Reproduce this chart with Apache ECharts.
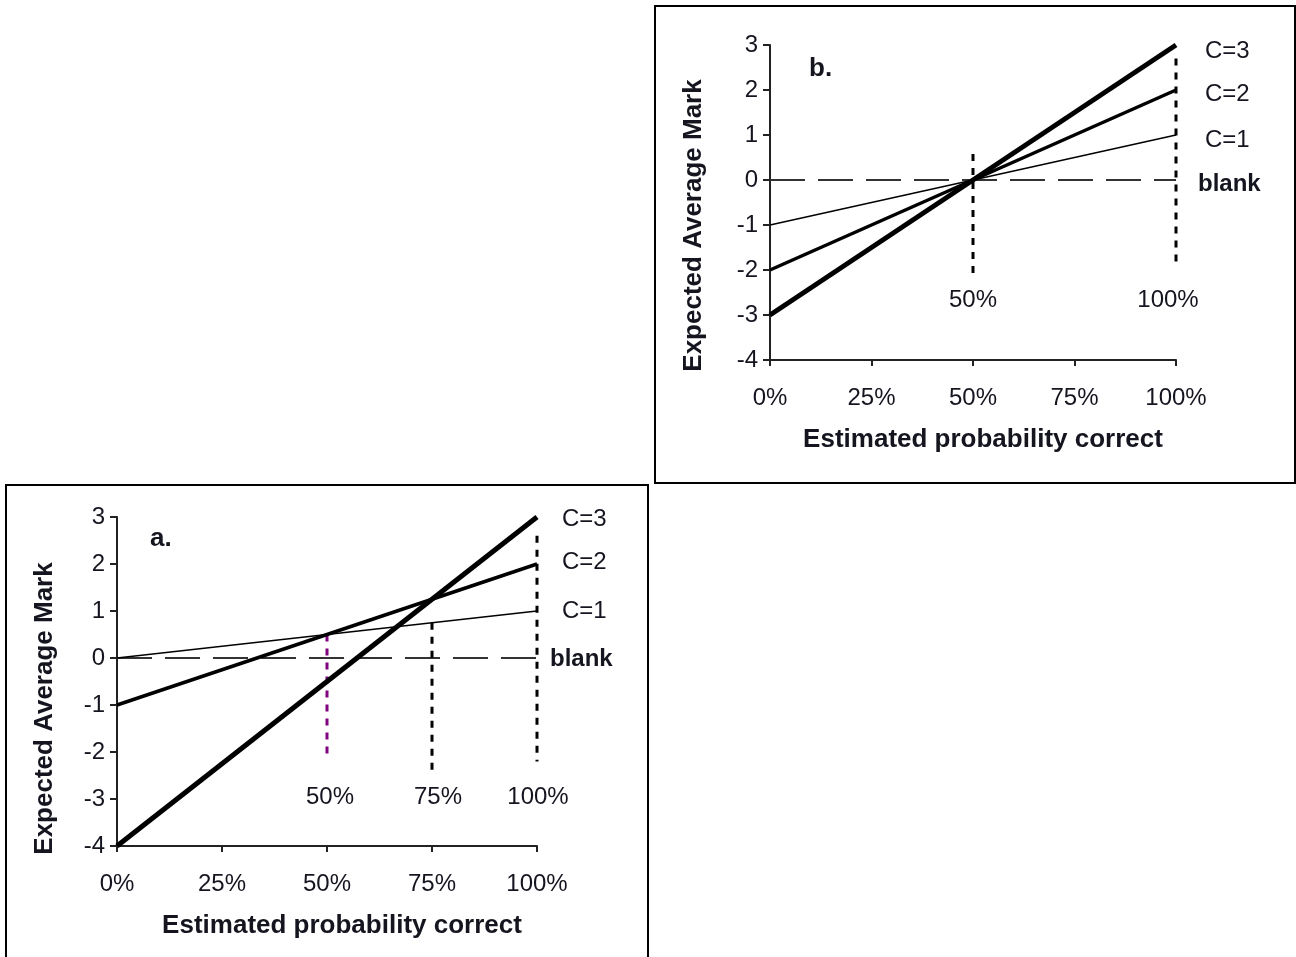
<!DOCTYPE html>
<html>
<head>
<meta charset="utf-8">
<script src="https://cdn.jsdelivr.net/npm/echarts@6/dist/echarts.min.js"></script>
<style>
html,body{margin:0;padding:0;background:#fff;}
#chart{width:1296px;height:957px;}
</style>
</head>
<body>
<div id="chart"></div>
<script>
// ---------- DATA ----------
var xTicks = [0, 25, 50, 75, 100];           // % estimated probability correct
var yTicks = [-4, -3, -2, -1, 0, 1, 2, 3];   // expected average mark
var xEnds = [0, 100];

// Panel a: C=1: 0..1, C=2: -1..2, C=3: -4..3
var aC1 = [0, 1];
var aC2 = [-1, 2];
var aC3 = [-4, 3];
var aBlank = [0, 0];
// Panel b: C=1: -1..1, C=2: -2..2, C=3: -3..3
var bC1 = [-1, 1];
var bC2 = [-2, 2];
var bC3 = [-3, 3];
var bBlank = [0, 0];

// threshold reference lines: [x, yTop, yBottom]
var aRefs = [[50, 0.5, -2.15], [75, 0.75, -2.4], [100, 2.6, -2.2]];
var bRefs = [[50, 0.58, -2.1], [100, 2.7, -1.9]];
var aRefLabels = ['50%', '75%', '100%'];
var bRefLabels = ['50%', '100%'];
var aRefLabelY = -2.96;
var bRefLabelY = -2.67;

var seriesNames = ['C=1', 'C=2', 'C=3', 'blank'];

// ---------- CHART ----------
var chart = echarts.init(document.getElementById('chart'));
var FONT = '"Liberation Sans", Arial, sans-serif';
var INK = '#151520';

function pts(vals) { return xEnds.map(function (x, i) { return [x, vals[i]]; }); }

function axesFor(idx, yGap, yPad, xPad) {
  return {
    x: {
      type: 'value', gridIndex: idx, min: 0, max: 100, interval: 25,
      axisLine: { onZero: false, lineStyle: { color: '#222', width: 2 } },
      axisTick: { show: true, length: 6, lineStyle: { color: '#222', width: 2 } },
      axisLabel: { formatter: '{value}%', margin: 26, fontSize: 24, color: INK, fontFamily: FONT },
      splitLine: { show: false },
      name: 'Estimated probability correct', nameLocation: 'middle', nameGap: 67,
      nameTextStyle: { fontSize: 26, fontWeight: 'bold', color: INK, fontFamily: FONT, padding: [0, 0, 0, xPad] }
    },
    y: {
      type: 'value', gridIndex: idx, min: -4, max: 3, interval: 1,
      axisLine: { onZero: false, lineStyle: { color: '#222', width: 2 } },
      axisTick: { show: true, length: 7, lineStyle: { color: '#222', width: 2 } },
      axisLabel: { margin: 12, fontSize: 24, color: INK, fontFamily: FONT },
      splitLine: { show: false },
      name: 'Expected Average Mark', nameLocation: 'middle', nameGap: yGap,
      nameTextStyle: { fontSize: 26, fontWeight: 'bold', color: INK, fontFamily: FONT, padding: [0, yPad, 0, 0] }
    }
  };
}

function lineSeries(idx, name, vals, width, labDist, labDy, bold, dashed) {
  return {
    type: 'line', name: name, xAxisIndex: idx, yAxisIndex: idx, symbol: 'none',
    silent: true, animation: false, z: dashed ? 2 : 4,
    lineStyle: { color: dashed ? '#333' : '#000', width: width, type: dashed ? [35, 13] : 'solid' },
    endLabel: { show: true, distance: labDist, offset: [0, labDy], formatter: name,
                fontSize: 24, fontWeight: bold ? 'bold' : 'normal', color: INK, fontFamily: FONT },
    data: pts(vals)
  };
}

function refSeries(idx, refs, colors) {
  return refs.map(function (r, i) {
    return {
      type: 'line', xAxisIndex: idx, yAxisIndex: idx, symbol: 'none', silent: true, animation: false, z: 3,
      lineStyle: { color: colors[i], width: 3, type: [7, 7] },
      data: [[r[0], r[1]], [r[0], r[2]]]
    };
  });
}

function refLabelSeries(idx, refs, labels, yVal, offsets) {
  return {
    type: 'scatter', xAxisIndex: idx, yAxisIndex: idx, symbolSize: 1, silent: true, animation: false,
    itemStyle: { opacity: 1, color: 'rgba(0,0,0,0)' },
    data: refs.map(function (r, i) {
      return {
        value: [r[0], yVal],
        label: { show: true, position: 'inside', formatter: labels[i], offset: [offsets[i], 0],
                 fontSize: 24, color: INK, fontFamily: FONT, opacity: 1, textBorderWidth: 0 }
      };
    })
  };
}

var A = axesFor(0, 59, 54, 30), B = axesFor(1, 63, 46, 20);

var option = {
  backgroundColor: '#fff',
  animation: false,
  grid: [
    { left: 117, top: 517, width: 420, height: 329 },
    { left: 770, top: 45, width: 406, height: 315 }
  ],
  xAxis: [A.x, B.x],
  yAxis: [A.y, B.y],
  graphic: [
    { type: 'rect', shape: { x: 6, y: 485, width: 642, height: 480 }, style: { fill: 'none', stroke: '#000', lineWidth: 2 }, silent: true },
    { type: 'rect', shape: { x: 655, y: 6, width: 640, height: 477 }, style: { fill: 'none', stroke: '#000', lineWidth: 2 }, silent: true },
    { type: 'text', left: 150, top: 526, style: { text: 'a.', font: 'bold 26px "Liberation Sans", Arial, sans-serif', fill: INK } },
    { type: 'text', left: 809, top: 56, style: { text: 'b.', font: 'bold 26px "Liberation Sans", Arial, sans-serif', fill: INK } }
  ],
  series: [].concat(
    [
      lineSeries(0, seriesNames[3], aBlank, 2, 13, 1, true, true),
      lineSeries(0, seriesNames[0], aC1, 1.5, 25, 0, false, false),
      lineSeries(0, seriesNames[1], aC2, 3.5, 25, -2, false, false),
      lineSeries(0, seriesNames[2], aC3, 5, 25, 2, false, false)
    ],
    refSeries(0, aRefs, ['#800080', '#000', '#000']),
    [refLabelSeries(0, aRefs, aRefLabels, aRefLabelY, [3, 6, 1])],
    [
      lineSeries(1, seriesNames[3], bBlank, 2, 22, 4, true, true),
      lineSeries(1, seriesNames[0], bC1, 1.5, 29, 5, false, false),
      lineSeries(1, seriesNames[1], bC2, 3.5, 29, 4, false, false),
      lineSeries(1, seriesNames[2], bC3, 5, 29, 6, false, false)
    ],
    refSeries(1, bRefs, ['#000', '#000']),
    [refLabelSeries(1, bRefs, bRefLabels, bRefLabelY, [0, -8])]
  )
};
chart.setOption(option);
</script>
</body>
</html>
